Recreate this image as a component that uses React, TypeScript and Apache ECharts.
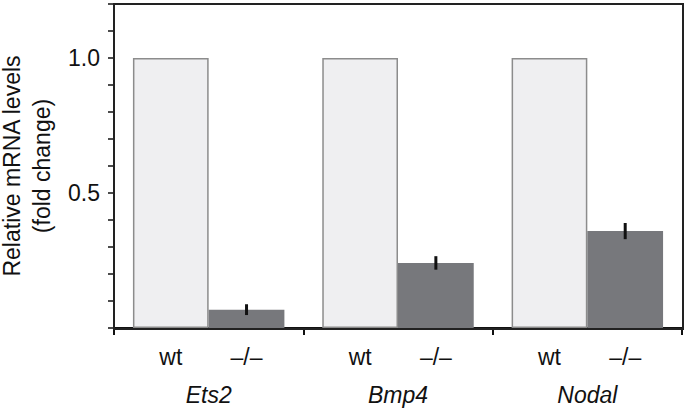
import React, { useEffect, useRef } from "react";
import * as echarts from "echarts";

const genes = ["Ets2", "Bmp4", "Nodal"];
const wtValues = [1.0, 1.0, 1.0];
const koValues = [0.068, 0.241, 0.359];
const koErrors = [0.02, 0.025, 0.03];
const yLabels: Record<string, string> = { "0.5": "0.5", "1": "1.0" };

const FONT = "'Liberation Sans', Arial, Helvetica, sans-serif";

export default function App() {
  const ref = useRef<HTMLDivElement>(null);
  useEffect(() => {
    if (!ref.current) return;
    document.body.style.margin = "0";
    document.body.style.overflow = "hidden";
    const chart = echarts.init(ref.current, undefined, { renderer: "svg", width: 685, height: 409 });
    const errData = koValues.map((v, i) => [i, v - koErrors[i], v + koErrors[i]]);
    chart.setOption({
      animation: false,
      textStyle: { fontFamily: FONT },
      grid: {
        left: 114,
        right: 3,
        top: 4,
        bottom: 81,
        containLabel: false,
        outerBoundsMode: "none",
      },
      graphic: [
        {
          type: "rect",
          left: 113,
          top: 3,
          z: 100,
          silent: true,
          shape: { width: 569, height: 325 },
          style: { fill: "transparent", stroke: "#222", lineWidth: 2 },
        },
      ],
      xAxis: {
        type: "category",
        data: genes,
        axisLine: { onZero: false, lineStyle: { color: "#111", width: 2 } },
        axisTick: { show: true, length: 7, lineStyle: { color: "#111", width: 2 } },
        axisLabel: {
          fontSize: 23,
          fontStyle: "italic",
          color: "#111",
          margin: 55,
          fontFamily: FONT,
        },
      },
      yAxis: {
        type: "value",
        min: 0,
        max: 1.2,
        interval: 0.1,
        name: "Relative mRNA levels\n(fold change)",
        nameLocation: "middle",
        nameGap: 56,
        nameTextStyle: { fontSize: 23, color: "#111", lineHeight: 30, fontFamily: FONT },
        splitLine: { show: false },
        axisLine: { show: true, onZero: false, lineStyle: { color: "#111", width: 2 } },
        axisTick: { show: true, length: 6, lineStyle: { color: "#111", width: 1.5 } },
        axisLabel: {
          fontSize: 23,
          color: "#111",
          margin: 14,
          fontFamily: FONT,
          formatter: (v: number) => {
            const k = String(Math.round(v * 10) / 10);
            return yLabels[k] ?? "";
          },
        },
      },
      series: [
        {
          type: "bar",
          data: wtValues,
          barGap: "0%",
          barCategoryGap: "20%",
          itemStyle: { color: "#efeff1", borderColor: "#8c8c8c", borderWidth: 1.5 },
          label: {
            show: true,
            position: "bottom",
            distance: 17,
            formatter: "wt",
            fontSize: 23,
            color: "#111",
            fontFamily: FONT,
          },
        },
        {
          type: "bar",
          data: koValues,
          itemStyle: { color: "#77787c" },
          label: {
            show: true,
            position: "bottom",
            distance: 17,
            formatter: "–/–",
            fontSize: 23,
            color: "#111",
            fontFamily: FONT,
          },
        },
        {
          type: "custom",
          data: errData,
          encode: { x: 0, y: [1, 2] },
          z: 10,
          renderItem: (params: any, api: any) => {
            const i = api.value(0);
            const lo = api.coord([i, api.value(1)]);
            const hi = api.coord([i, api.value(2)]);
            const w = api.size([1, 0])[0];
            const x = lo[0] + 0.2 * w;
            return {
              type: "line",
              shape: { x1: x, y1: lo[1], x2: x, y2: hi[1] },
              style: { stroke: "#111", lineWidth: 3 },
            };
          },
        },
      ],
    });
    return () => chart.dispose();
  }, []);
  return <div ref={ref} style={{ width: 685, height: 409 }} />;
}
